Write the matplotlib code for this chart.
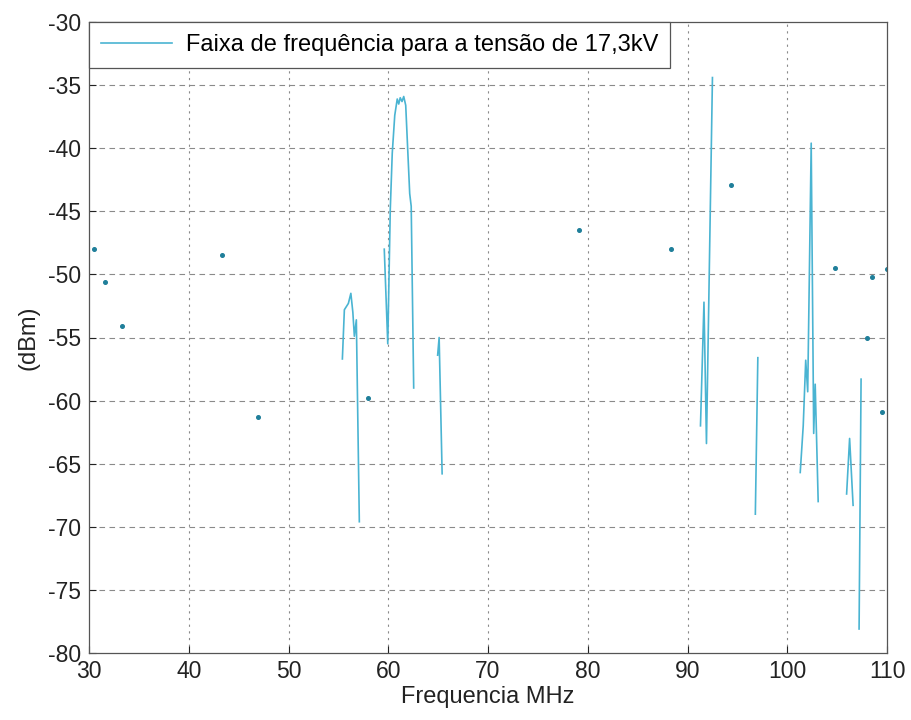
import matplotlib
matplotlib.use("Agg")
import matplotlib.pyplot as plt
import numpy as np

plt.rcParams['font.family'] = ['Liberation Sans', 'DejaVu Sans']
plt.rcParams['axes.unicode_minus'] = False

# Continuous segments of the trace (frequency MHz, level dBm)
seg1_f = [55.4, 55.6, 56.0, 56.25, 56.45, 56.6, 56.8, 57.1]
seg1_v = [-56.7, -52.8, -52.3, -51.5, -53.0, -54.9, -53.6, -69.6]

seg2_f = [59.6, 59.95, 60.2, 60.4, 60.65, 60.9, 61.05, 61.2, 61.38, 61.55, 61.75, 62.15, 62.3, 62.55]
seg2_v = [-48.0, -55.5, -44.9, -40.4, -37.4, -36.1, -36.5, -36.0, -36.3, -35.9, -36.6, -43.6, -44.6, -59.0]

seg3_f = [64.95, 65.1, 65.4]
seg3_v = [-56.4, -55.0, -65.8]

seg4_f = [91.3, 91.65, 91.9, 92.5]
seg4_v = [-62.0, -52.2, -63.4, -34.4]

seg5_f = [96.8, 97.05]
seg5_v = [-69.0, -56.6]

seg6_f = [101.3, 101.6, 101.85, 102.05, 102.4, 102.65, 102.8, 103.1]
seg6_v = [-65.7, -62.0, -56.8, -59.3, -39.6, -62.6, -58.7, -68.0]

seg7_f = [105.95, 106.25, 106.6]
seg7_v = [-67.4, -63.0, -68.3]

seg8_f = [107.2, 107.4]
seg8_v = [-78.1, -58.3]

# Isolated points of the trace
dot_f = [30.5, 31.6, 33.3, 43.35, 46.9, 58.0, 79.1, 88.3, 94.4, 104.75, 107.95, 108.45, 109.5, 110.0]
dot_v = [-48.0, -50.6, -54.1, -48.5, -61.3, -59.8, -46.5, -48.0, -42.9, -49.5, -55.0, -50.2, -60.9, -49.6]

xticks = [30, 40, 50, 60, 70, 80, 90, 100, 110]
yticks = [-30, -35, -40, -45, -50, -55, -60, -65, -70, -75, -80]

line_color = '#4ab4d2'
dot_color = '#1f7f9a'

fig = plt.figure(figsize=(9.12, 7.2), dpi=100)
ax = fig.add_axes([0.0976, 0.0931, 0.875, 0.8763])

segments = [(seg1_f, seg1_v), (seg2_f, seg2_v), (seg3_f, seg3_v), (seg4_f, seg4_v),
            (seg5_f, seg5_v), (seg6_f, seg6_v), (seg7_f, seg7_v), (seg8_f, seg8_v)]
for i, (f, v) in enumerate(segments):
    ax.plot(f, v, color=line_color, lw=1.2,
            label='Faixa de frequência para a tensão de 17,3kV' if i == 0 else None)
ax.plot(dot_f, dot_v, linestyle='none', marker='o', ms=2.6, color=dot_color, mec=dot_color)

ax.set_xlim(30, 110)
ax.set_ylim(-80, -30)
ax.set_xticks(xticks)
ax.set_yticks(yticks)
ax.tick_params(direction='in', length=5, labelsize=16.5, colors='#222222', width=0.8)
ax.tick_params(axis='x', pad=5)
ax.tick_params(axis='y', pad=6)

for x in xticks[1:-1]:
    ax.axvline(x, color='#8a8a8a', lw=0.8, linestyle=(0, (2, 4)), zorder=0)
for y in yticks[1:-1]:
    ax.axhline(y, color='#8a8a8a', lw=0.8, linestyle=(0, (5, 4)), zorder=0)

for s in ax.spines.values():
    s.set_color('#555555')
    s.set_linewidth(0.9)

ax.set_xlabel('Frequencia MHz', fontsize=17, color='#222222', labelpad=2)
ax.set_ylabel('(dBm)', fontsize=17, color='#222222', labelpad=6)

leg = ax.legend(loc='upper left', bbox_to_anchor=(0.0, 1.0), borderaxespad=0.0,
                fontsize=17, frameon=True, fancybox=False, handlelength=3.0,
                handletextpad=0.6, borderpad=0.5)
leg.get_frame().set_edgecolor('#555555')
leg.get_frame().set_linewidth(0.9)
leg.get_frame().set_alpha(1.0)

fig.savefig('out.png', dpi=100, facecolor='white')
